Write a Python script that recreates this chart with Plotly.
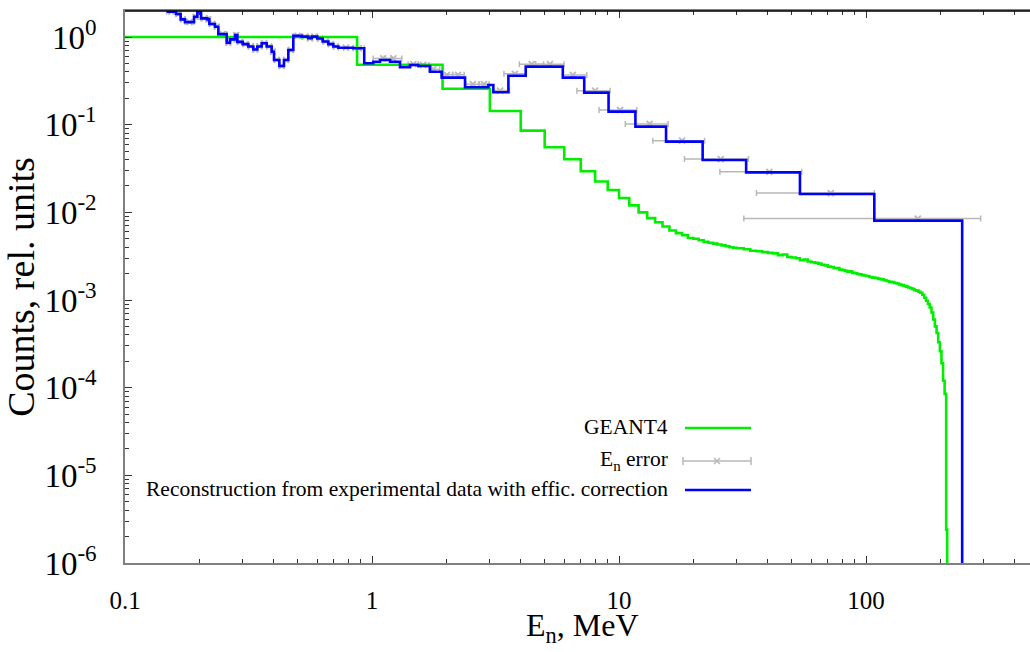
import math
import plotly.graph_objects as go

# ---------------- DATA ----------------
# GEANT4 simulated spectrum (histogram): bin edges [MeV] and bin values
geant_edges = ([0.1, 0.87, 1.93, 3.0, 4.0, 5.0, 6.0, 7.0]
               + list(range(8, 30, 1))
               + list(range(30, 100, 2))
               + list(range(100, 178, 3))
               + [178, 181, 184, 187, 190, 193, 196, 199, 202, 205, 208, 211, 213])
geant_values = ([1.0, 0.483, 0.257, 0.143, 0.0855, 0.0552, 0.0403, 0.0294]
                + [0.0225, 0.0180, 0.0146, 0.0120, 0.0100, 0.0086, 0.0077, 0.0069, 0.0062, 0.0058,
                   0.0055, 0.0051, 0.0050, 0.0048, 0.0046, 0.0045, 0.0044, 0.0043, 0.0042, 0.0041,
                   0.0040, 0.00395]
                + [0.0039, 0.0038, 0.00365, 0.0036, 0.00352, 0.00345, 0.0034, 0.00325, 0.0033, 0.0031,
                   0.00305, 0.0030, 0.00285, 0.0029, 0.00275, 0.0027, 0.00265, 0.0026, 0.00252, 0.00248,
                   0.0024, 0.00238, 0.0023, 0.00232, 0.00222, 0.0022, 0.00215, 0.0021, 0.00212, 0.00204,
                   0.00202, 0.00198, 0.00196, 0.00192, 0.0019]
                + [0.00188, 0.00183, 0.00180, 0.00178, 0.00174, 0.00172, 0.00168, 0.00165, 0.00161,
                   0.00160, 0.00156, 0.00154, 0.00150, 0.00148, 0.00145, 0.00142, 0.00139, 0.00136,
                   0.00133, 0.00129, 0.00128, 0.00124, 0.00121, 0.00115, 0.00106, 0.00098]
                + [0.00090, 0.00082, 0.00072, 0.00060, 0.00050, 0.00042, 0.00033, 0.00026, 0.00019,
                   0.00012, 8.5e-5, 2.4e-6])

# Reconstruction from experimental data (histogram): bin edges [MeV] and values
reco_edges = [0.1474, 0.1609, 0.1680, 0.1749, 0.1903, 0.1963, 0.2031, 0.2154, 0.2195, 0.2314,
              0.2387, 0.2580, 0.2661, 0.2788, 0.2850, 0.2995, 0.3157, 0.3308, 0.3434, 0.3575,
              0.3746, 0.3925, 0.4011, 0.4215, 0.4401, 0.4583, 0.4802, 0.5191, 0.5524, 0.5698,
              0.6007, 0.6314, 0.6655, 0.6974, 0.7307, 0.8401, 0.930, 1.012, 1.077, 1.183,
              1.298, 1.425, 1.540, 1.717, 1.915, 2.380, 2.958, 3.099, 3.565, 4.190,
              5.0, 5.92, 7.23, 9.07, 11.65, 15.5, 21.8, 32.7, 54.0, 108.0, 245.0]
reco_values = [1.95, 1.83, 1.59, 1.48, 1.70, 1.94, 1.63, 1.59, 1.41, 1.31,
               1.08, 0.86, 0.94, 1.05, 0.88, 0.83, 0.78, 0.72, 0.78, 0.85,
               0.78, 0.68, 0.547, 0.467, 0.547, 0.711, 1.03, 1.01, 0.966, 1.01,
               0.96, 0.89, 0.83, 0.78, 0.755, 0.743, 0.501, 0.523, 0.547, 0.523,
               0.451, 0.479, 0.467, 0.402, 0.344, 0.267, 0.284, 0.234, 0.362, 0.459,
               0.459, 0.344, 0.232, 0.141, 0.095, 0.064, 0.0396, 0.0286, 0.0162, 0.00805]

# E_n error points above 0.93 MeV: centre, value, lower and upper ends of the error bar
err_x = [1.11, 1.22, 1.47, 1.61, 1.77, 2.01, 2.23, 2.56, 2.84, 3.3, 3.79, 4.43, 5.25,
         6.5, 8.0, 10.1, 13.3, 18.0, 25.8, 40.6, 72.0, 162.0]
err_y = [0.57, 0.57, 0.49, 0.48, 0.43, 0.37, 0.37, 0.29, 0.29, 0.245, 0.38, 0.49, 0.49,
         0.369, 0.244, 0.147, 0.102, 0.0657, 0.0405, 0.029, 0.0166, 0.0085]
err_lo = [1.01, 1.12, 1.40, 1.54, 1.70, 1.90, 2.12, 2.40, 2.70, 3.10, 3.42, 3.95, 4.60,
          5.95, 6.75, 8.3, 10.6, 13.7, 18.4, 25.6, 36.0, 32.0]
err_hi = [1.20, 1.32, 1.54, 1.70, 1.88, 2.12, 2.36, 2.72, 2.98, 3.60, 4.20, 4.95, 5.99,
          7.4, 9.2, 11.8, 15.8, 22.2, 33.4, 54.9, 108.0, 291.0]

# low-energy error points coincide with the fine reconstruction bins (below 0.93 MeV)
LOW_LIMIT = 0.93

x_ticks = [0.1, 1, 10, 100]
x_ticktext = ["0.1", "1", "10", "100"]
y_ticks = [1e-6, 1e-5, 1e-4, 1e-3, 1e-2, 1e-1, 1]
y_ticktext = ["10<sup>-6</sup>", "10<sup>-5</sup>", "10<sup>-4</sup>", "10<sup>-3</sup>",
              "10<sup>-2</sup>", "10<sup>-1</sup>", "10<sup>0</sup>"]

GREEN = "#00ee00"
BLUE = "#0000ff"
GRAY = "#b8b8b8"
FONT = "Liberation Serif"


def step_xy(edges, values, floor=1e-8):
    xs = list(edges[:-1]) + [edges[-1]]
    ys = list(values) + [floor]
    return xs, ys


fig = go.Figure()

# --- error points ---
lx, ly, lm, lp = [], [], [], []
for lo, hi, v in zip(reco_edges[:-1], reco_edges[1:], reco_values):
    if hi <= LOW_LIMIT:
        c = math.sqrt(lo * hi)
        lx.append(c); ly.append(v); lm.append(c - lo); lp.append(hi - c)
ex = lx + err_x
ey = ly + err_y
em = lm + [c - lo for c, lo in zip(err_x, err_lo)]
ep = lp + [hi - c for c, hi in zip(err_x, err_hi)]
fig.add_trace(go.Scatter(
    x=ex, y=ey, mode="markers",
    marker=dict(symbol="x-thin", size=6, line=dict(color=GRAY, width=1.8), color=GRAY),
    error_x=dict(type="data", array=ep, arrayminus=em, symmetric=False,
                 color=GRAY, thickness=1.5, width=3),
    hoverinfo="skip"))

gx, gy = step_xy(geant_edges, geant_values)
fig.add_trace(go.Scatter(x=gx, y=gy, mode="lines", line=dict(color=GREEN, width=2.6, shape="hv")))

bx, by = step_xy(reco_edges, reco_values)
fig.add_trace(go.Scatter(x=bx, y=by, mode="lines", line=dict(color=BLUE, width=2.6, shape="hv")))

# --- axes ---
x_minor = [k * 10 ** d for d in range(-1, 3) for k in range(2, 10)]
y_minor = [k * 10.0 ** d for d in range(-6, 1) for k in range(2, 10)]

fig.update_xaxes(
    type="log", range=[-1, math.log10(461)],
    tickmode="array", tickvals=x_ticks, ticktext=x_ticktext,
    ticks="inside", ticklen=7, tickwidth=1.2, tickcolor="#333",
    minor=dict(tickmode="array", tickvals=x_minor, ticks="inside", ticklen=4, tickcolor="#333", tickwidth=1.2),
    showline=True, linecolor="#808080", linewidth=1.5, mirror="allticks",
    showgrid=False, zeroline=False,
    tickfont=dict(family=FONT, size=25, color="black"), ticklabelstandoff=14,
)
fig.update_yaxes(
    type="log", range=[-6, math.log10(1.98)],
    tickmode="array", tickvals=y_ticks, ticktext=y_ticktext,
    ticks="inside", ticklen=7, tickwidth=1.2, tickcolor="#333",
    minor=dict(tickmode="array", tickvals=y_minor, ticks="inside", ticklen=4, tickcolor="#333", tickwidth=1.2),
    showline=True, linecolor="#808080", linewidth=1.5,
    showgrid=False, zeroline=False,
    tickfont=dict(family=FONT, size=33, color="black"), ticklabelstandoff=20,
    title=dict(text="Counts, rel. units", font=dict(family=FONT, size=38, color="black"), standoff=8),
)

PW, PH, L, T = 905.0, 552.0, 125.0, 11.0


def px(x):
    return (x - L) / PW


def py(y):
    return 1 - (y - T) / PH


# x-axis title
fig.add_annotation(x=px(582), y=py(627), xref="paper", yref="paper", text="E<sub>n</sub>, MeV",
                   showarrow=False, xanchor="center", yanchor="middle", borderpad=0,
                   font=dict(family=FONT, size=32, color="black"))

# top frame line (black)
fig.add_shape(type="line", xref="paper", yref="paper", x0=0, x1=1, y0=1, y1=1,
              line=dict(color="black", width=1.5))

# --- legend (right-aligned text, samples on the right) ---
legend_items = [("GEANT4", 427), ("E<sub>n</sub> error", 460),
                ("Reconstruction from experimental data with effic. correction", 489)]
for txt, yy in legend_items:
    fig.add_annotation(x=px(670), y=py(yy), xref="paper", yref="paper", text=txt, showarrow=False,
                       xanchor="right", yanchor="middle", font=dict(family=FONT, size=21.5, color="black"))

fig.add_shape(type="line", xref="paper", yref="paper", x0=px(685), x1=px(751), y0=py(428), y1=py(428),
              line=dict(color=GREEN, width=2.6))
fig.add_shape(type="line", xref="paper", yref="paper", x0=px(685), x1=px(751), y0=py(490), y1=py(490),
              line=dict(color=BLUE, width=2.6))
fig.add_shape(type="line", xref="paper", yref="paper", x0=px(683), x1=px(751), y0=py(461), y1=py(461),
              line=dict(color=GRAY, width=1.5))
for xc in (683, 751):
    fig.add_shape(type="line", xref="paper", yref="paper", x0=px(xc), x1=px(xc), y0=py(457), y1=py(465),
                  line=dict(color=GRAY, width=1.5))
for d in (-1, 1):
    fig.add_shape(type="line", xref="paper", yref="paper", x0=px(714), x1=px(720),
                  y0=py(461 - 3 * d), y1=py(461 + 3 * d), line=dict(color=GRAY, width=1.5))

fig.update_layout(
    width=1030, height=652,
    margin=dict(l=125, r=0, t=11, b=89),
    plot_bgcolor="white", paper_bgcolor="white",
    showlegend=False,
    font=dict(family=FONT, color="black"),
)

fig.write_html("out.html")
